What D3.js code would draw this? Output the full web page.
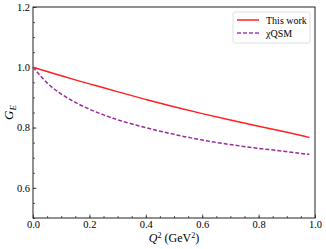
<!DOCTYPE html>
<html>
<head>
<meta charset="utf-8">
<script src="https://d3js.org/d3.v7.min.js"></script>
<style>
  body { margin: 0; background: #fff; }
</style>
</head>
<body>
<script>
// Q^2 grid and the two G_E curves
var q2 = [0, 0.05, 0.1, 0.15, 0.2, 0.25, 0.3, 0.4, 0.5, 0.6, 0.7, 0.8, 0.9, 0.98];
var thisWork = [1.0, 0.986, 0.972, 0.958, 0.945, 0.932, 0.919, 0.893, 0.869, 0.846, 0.825, 0.804, 0.785, 0.767];
var chiQSM = [1.0, 0.945, 0.910, 0.883, 0.860, 0.842, 0.825, 0.799, 0.777, 0.758, 0.743, 0.731, 0.720, 0.711];

var xTicks = [0, 0.2, 0.4, 0.6, 0.8, 1.0];
var yTicks = [0.6, 0.8, 1.0, 1.2];
var seriesNames = ["This work", "\u03c7QSM"];

var W = 326, H = 249;
var margin = {left: 33, top: 7, right: 11, bottom: 31};
var serif = "Liberation Serif";

var svg = d3.select("body").append("svg")
    .attr("width", W).attr("height", H)
    .attr("font-family", serif);

var x = d3.scaleLinear().domain([0, 1]).range([margin.left, W - margin.right]);
var y = d3.scaleLinear().domain([0.5, 1.2]).range([H - margin.bottom, margin.top]);

// minor ticks every 0.05
var xMinor = d3.range(0, 1.0001, 0.05);
var yMinor = d3.range(0.5, 1.2001, 0.05);

var gx = svg.append("g").attr("transform", "translate(0," + y(0.5) + ")");
gx.call(d3.axisBottom(x).tickValues(xMinor).tickSize(-2).tickFormat(""));
gx.select(".domain").remove();
var gx2 = svg.append("g").attr("transform", "translate(0," + y(0.5) + ")");
gx2.call(d3.axisBottom(x).tickValues(xTicks).tickSize(-3.5).tickPadding(3)
    .tickFormat(d3.format(".1f")));
gx2.select(".domain").remove();

var gy = svg.append("g").attr("transform", "translate(" + x(0) + ",0)");
gy.call(d3.axisLeft(y).tickValues(yMinor).tickSize(-2).tickFormat(""));
gy.select(".domain").remove();
var gy2 = svg.append("g").attr("transform", "translate(" + x(0) + ",0)");
gy2.call(d3.axisLeft(y).tickValues(yTicks).tickSize(-3.5).tickPadding(3)
    .tickFormat(d3.format(".1f")));
gy2.select(".domain").remove();

svg.selectAll("g").attr("font-family", serif);
svg.selectAll(".tick text")
    .attr("font-size", 10.5).attr("fill", "#000");
svg.selectAll(".tick line").attr("stroke", "#333").attr("stroke-width", 0.8);

// frame
svg.append("rect")
    .attr("x", x(0)).attr("y", y(1.2))
    .attr("width", x(1) - x(0)).attr("height", y(0.5) - y(1.2))
    .attr("fill", "none").attr("stroke", "#222").attr("stroke-width", 1);

var line = d3.line().x(d => x(d[0])).y(d => y(d[1])).curve(d3.curveBasis);

svg.append("path")
    .datum(q2.map((q, i) => [q, chiQSM[i]]))
    .attr("d", line).attr("fill", "none")
    .attr("stroke", "#9a2aa0").attr("stroke-width", 1.5)
    .attr("stroke-dasharray", "4,2");

svg.append("path")
    .datum(q2.map((q, i) => [q, thisWork[i]]))
    .attr("d", line).attr("fill", "none")
    .attr("stroke", "#ff2020").attr("stroke-width", 1.5);

// legend
var lg = svg.append("g");
lg.append("rect")
    .attr("x", 233).attr("y", 12).attr("width", 77).attr("height", 31)
    .attr("rx", 2).attr("fill", "#fff").attr("stroke", "#d8d8d8").attr("stroke-width", 0.8);
var colors = ["#ff2020", "#a040b0"];
var dashes = [null, "4,2"];
seriesNames.forEach(function (name, i) {
  var ly = 20 + i * 13;
  lg.append("line")
      .attr("x1", 237).attr("x2", 259).attr("y1", ly).attr("y2", ly)
      .attr("stroke", colors[i]).attr("stroke-width", 1.5)
      .attr("stroke-dasharray", dashes[i]);
  lg.append("text")
      .attr("x", 266).attr("y", ly + 3.5)
      .attr("font-size", 10).text(name);
});

// axis labels
var xl = svg.append("text")
    .attr("x", (x(0) + x(1)) / 2).attr("y", 242)
    .attr("text-anchor", "middle").attr("font-size", 12);
xl.append("tspan").attr("font-style", "italic").text("Q");
xl.append("tspan").attr("dy", -4).attr("font-size", 8).text("2");
xl.append("tspan").attr("dy", 4).text(" (GeV");
xl.append("tspan").attr("dy", -4).attr("font-size", 8).text("2");
xl.append("tspan").attr("dy", 4).text(")");

var yl = svg.append("text")
    .attr("transform", "translate(13," + (y(0.85)) + ") rotate(-90)")
    .attr("text-anchor", "middle").attr("font-size", 13);
yl.append("tspan").attr("font-style", "italic").text("G");
yl.append("tspan").attr("dy", 3).attr("font-size", 9).attr("font-style", "italic").text("E");
</script>
</body>
</html>
